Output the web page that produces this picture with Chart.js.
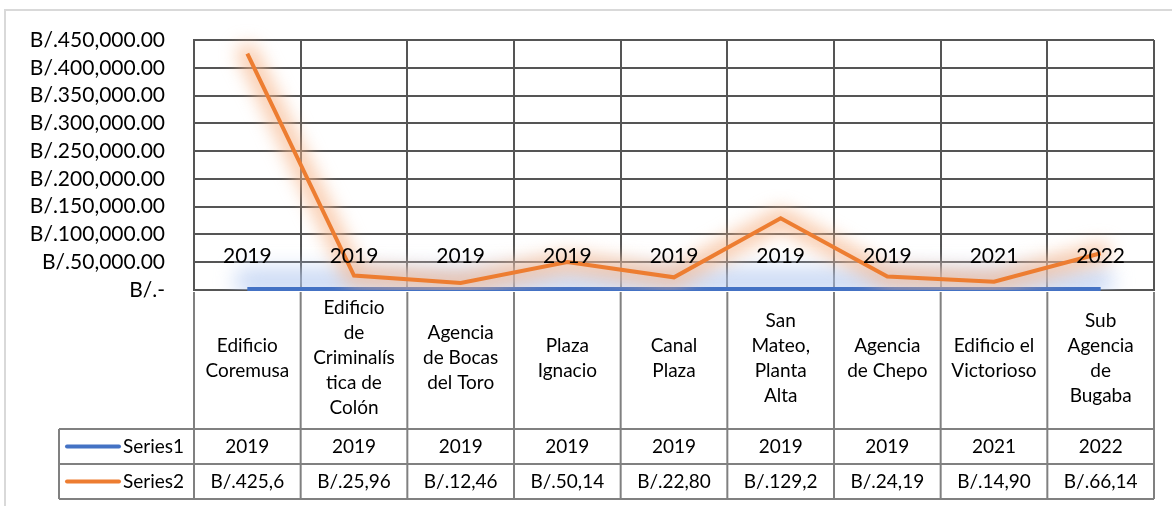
<!DOCTYPE html>
<html>
<head>
<meta charset="utf-8">
<script src="https://cdn.jsdelivr.net/npm/chart.js@4"></script>
<style>
  html, body { margin: 0; padding: 0; background: #fff; overflow: hidden; }
  #wrap { width: 1172px; height: 506px; position: relative; }
</style>
</head>
<body>
<div id="wrap"><canvas id="chart"></canvas></div>
<script>
// data
const categories = [
  ["Edificio", "Coremusa"],
  ["Edificio", "de", "Criminalís", "tica de", "Colón"],
  ["Agencia", "de Bocas", "del Toro"],
  ["Plaza", "Ignacio"],
  ["Canal", "Plaza"],
  ["San", "Mateo,", "Planta", "Alta"],
  ["Agencia", "de Chepo"],
  ["Edificio el", "Victorioso"],
  ["Sub", "Agencia", "de", "Bugaba"]
];
const series1 = [2019, 2019, 2019, 2019, 2019, 2019, 2019, 2021, 2022];
const series2 = [425600, 25960, 12460, 50140, 22800, 129200, 24190, 14900, 66140];
const series2Cells = ["B/.425,6", "B/.25,96", "B/.12,46", "B/.50,14", "B/.22,80", "B/.129,2", "B/.24,19", "B/.14,90", "B/.66,14"];
const yTickLabels = ["B/.-", "B/.50,000.00", "B/.100,000.00", "B/.150,000.00", "B/.200,000.00",
  "B/.250,000.00", "B/.300,000.00", "B/.350,000.00", "B/.400,000.00", "B/.450,000.00"];

const BLUE = "#4472c4";
const ORANGE = "#ed7d31";
const GRID = "#555555";
const TABLE = "#808080";
const FONT = "Lato";

Chart.defaults.font.family = FONT;
Chart.defaults.color = "#000";

// white background and the faint outer frame
const framePlugin = {
  id: "frame",
  beforeDraw(chart) {
    const ctx = chart.ctx;
    ctx.save();
    ctx.fillStyle = "#fff";
    ctx.fillRect(0, 0, chart.width, chart.height);
    ctx.strokeStyle = "#d9d9d9";
    ctx.lineWidth = 2;
    ctx.strokeRect(5, 10, chart.width + 100, chart.height + 100);
    ctx.restore();
  }
};

// soft glow round both lines: a blurred copy drawn first
const glowPlugin = {
  id: "glow",
  beforeDatasetDraw(chart, args) {
    const ctx = chart.ctx;
    const pts = args.meta.data;
    const area = chart.chartArea;
    const isOrange = args.index === 1;
    ctx.save();
    ctx.beginPath();
    ctx.rect(area.left, area.top - 20, area.width, area.height + 20);
    ctx.clip();
    ctx.filter = isOrange ? "blur(9px)" : "blur(10px)";
    ctx.strokeStyle = isOrange ? "rgba(247, 180, 135, 0.7)" : "rgba(185, 205, 242, 0.75)";
    ctx.lineWidth = isOrange ? 20 : 26;
    ctx.lineJoin = "round";
    ctx.lineCap = "round";
    ctx.beginPath();
    pts.forEach((p, i) => {
      const yy = isOrange ? p.y : p.y - 8;
      if (i === 0) ctx.moveTo(p.x, yy); else ctx.lineTo(p.x, yy);
    });
    ctx.stroke();
    ctx.restore();
  }
};

// data labels for Series1 and the data table under the axis
const tablePlugin = {
  id: "table",
  afterDraw(chart) {
    const ctx = chart.ctx;
    const x = chart.scales.x;
    const area = chart.chartArea;
    const step = x.getPixelForValue(1) - x.getPixelForValue(0);
    const rowTop = x.bottom - 1;
    const rowH = 35;
    const legendLeft = 59;

    ctx.save();
    // Series1 labels
    ctx.font = "21px " + FONT;
    ctx.fillStyle = "#000";
    ctx.textAlign = "center";
    ctx.textBaseline = "middle";
    const meta = chart.getDatasetMeta(0);
    meta.data.forEach((pt, i) => {
      ctx.fillText(String(series1[i]), pt.x, pt.y - 33);
    });

    // table lines
    ctx.strokeStyle = TABLE;
    ctx.lineWidth = 2;
    ctx.beginPath();
    for (let r = 0; r < 3; r++) {
      const y = rowTop + r * rowH;
      ctx.moveTo(legendLeft, y);
      ctx.lineTo(area.right, y);
    }
    ctx.moveTo(legendLeft, rowTop);
    ctx.lineTo(legendLeft, rowTop + 2 * rowH);
    for (let i = 0; i <= categories.length; i++) {
      const ex = i < categories.length ? x.getPixelForValue(i) - step / 2 : area.right;
      ctx.moveTo(ex, area.bottom + 2);
      ctx.lineTo(ex, rowTop + 2 * rowH);
    }
    ctx.stroke();

    // legend keys and cells
    const rows = [
      { name: "Series1", color: BLUE, cells: series1.map(String) },
      { name: "Series2", color: ORANGE, cells: series2Cells }
    ];
    ctx.font = "19px " + FONT;
    rows.forEach((row, r) => {
      const cy = rowTop + r * rowH + rowH / 2;
      ctx.strokeStyle = row.color;
      ctx.lineWidth = 4;
      ctx.lineCap = "round";
      ctx.beginPath();
      ctx.moveTo(legendLeft + 8, cy);
      ctx.lineTo(legendLeft + 60, cy);
      ctx.stroke();
      ctx.textAlign = "left";
      ctx.fillText(row.name, legendLeft + 64, cy);
      ctx.textAlign = "center";
      row.cells.forEach((t, i) => {
        ctx.fillText(t, x.getPixelForValue(i), cy);
      });
    });
    ctx.restore();
  }
};

new Chart(document.getElementById("chart"), {
  type: "line",
  data: {
    labels: categories,
    datasets: [
      {
        label: "Series1",
        data: series1,
        borderColor: BLUE,
        borderWidth: 4,
        pointRadius: 0,
        clip: false,
        order: 1
      },
      {
        label: "Series2",
        data: series2,
        borderColor: ORANGE,
        borderWidth: 4,
        pointRadius: 0,
        order: 0
      }
    ]
  },
  options: {
    responsive: true,
    maintainAspectRatio: false,
    animation: false,
    events: [],
    layout: { padding: { left: 0, top: 40, right: 18, bottom: 76 } },
    plugins: {
      legend: { display: false },
      tooltip: { enabled: false }
    },
    scales: {
      x: {
        offset: true,
        grid: { offset: true, color: GRID, lineWidth: 2, drawTicks: false },
        border: { color: GRID, width: 2 },
        ticks: {
          autoSkip: false,
          maxRotation: 0,
          minRotation: 0,
          padding: 18,
          crossAlign: "center",
          color: "#000",
          font: { size: 19, lineHeight: "25px" }
        },
        afterFit(scale) { scale.height = 140; }
      },
      y: {
        min: 0,
        max: 450000,
        grid: { color: GRID, lineWidth: 2, drawTicks: false },
        border: { color: GRID, width: 2 },
        ticks: {
          stepSize: 50000,
          autoSkip: false,
          padding: 29,
          color: "#000",
          font: { size: 21, lineHeight: 1 },
          callback: (v) => yTickLabels[Math.round(v / 50000)]
        },
        afterFit(scale) { scale.width = 194; }
      }
    }
  },
  plugins: [framePlugin, glowPlugin, tablePlugin]
});
</script>
</body>
</html>
